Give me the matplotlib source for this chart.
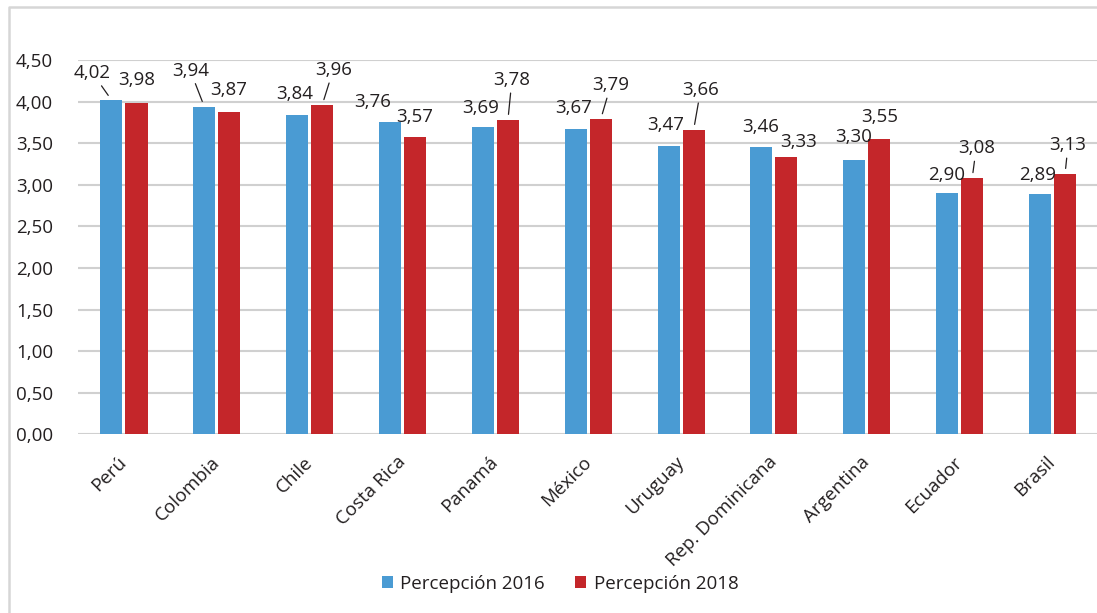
import matplotlib.pyplot as plt
import numpy as np
from matplotlib.lines import Line2D
from matplotlib.transforms import ScaledTranslation

paises = ['Perú', 'Colombia', 'Chile', 'Costa Rica', 'Panamá', 'México',
          'Uruguay', 'Rep. Dominicana', 'Argentina', 'Ecuador', 'Brasil']
p2016 = [4.02, 3.94, 3.84, 3.76, 3.69, 3.67, 3.47, 3.46, 3.30, 2.90, 2.89]
p2018 = [3.98, 3.87, 3.96, 3.57, 3.78, 3.79, 3.66, 3.33, 3.55, 3.08, 3.13]
series = ['Percepción 2016', 'Percepción 2018']

# label offsets (pixels, up positive) and whether a leader line is drawn
off2016 = [(-19, 27), (-14, 36), (-2, 21), (-17, 20), (-2, 19), (-2, 21),
           (-3, 21), (-1, 20), (-1, 23), (-1, 18), (-2, 19)]
lead2016 = [True, True, False, False, False, False, False, False, False, False, False]
off2018 = [(0, 23), (-1, 22), (11, 35), (0, 20), (4, 40), (10, 34),
           (7, 40), (12, 15), (0, 22), (4, 30), (3, 29)]
lead2018 = [False, False, True, False, True, True, True, False, False, True, True]

plt.rcParams['font.family'] = ['Open Sans', 'DejaVu Sans']
txt = '#231f20'
azul = '#4a9bd3'
rojo = '#c4262a'

fig = plt.figure(figsize=(10.97, 6.13), dpi=100)
# marco gris: linea superior e izquierda
fig.lines.append(Line2D([9 / 1097, 9 / 1097, 1.0], [0.0, 1 - 7 / 613, 1 - 7 / 613],
                        transform=fig.transFigure, color='#d6d6d6', linewidth=1.8))
ax = fig.add_axes([78 / 1097, 1 - 434.3 / 613, (1097 - 78) / 1097, 374.3 / 613])

x = np.arange(len(paises))
w = 0.237
d = 0.135
b1 = ax.bar(x - d, p2016, w, color=azul, label=series[0], zorder=3)
b2 = ax.bar(x + d, p2018, w, color=rojo, label=series[1], zorder=3)

def etiquetas(xs, vals, offs, leads):
    for xi, v, o, l in zip(xs, vals, offs, leads):
        s = ('%.2f' % v).replace('.', ',')
        if l:
            ax.annotate(s, (xi, v), xytext=o, textcoords='offset pixels',
                        ha='center', va='center', fontsize=13.5, color=txt,
                        arrowprops=dict(arrowstyle='-', color=txt, lw=0.9,
                                        shrinkA=1, shrinkB=4))
        else:
            ax.annotate(s, (xi, v), xytext=o, textcoords='offset pixels',
                        ha='center', va='center', fontsize=13.5, color=txt)

etiquetas(x - d, p2016, off2016, lead2016)
etiquetas(x + d, p2018, off2018, lead2018)

ax.set_ylim(0, 4.5)
ax.set_xlim(-0.495, 10.479)
yt = np.arange(0, 4.51, 0.5)
ax.set_yticks(yt)
ax.set_yticklabels([('%.2f' % t).replace('.', ',') for t in yt], fontsize=13.5, color=txt)
ax.set_xticks(x)
ax.set_xticklabels(paises, rotation=45, ha='right', va='center', rotation_mode='anchor',
                   fontsize=13.5, color=txt)
ax.tick_params(length=0, pad=8)
ax.tick_params(axis='y', pad=18)
sh = ScaledTranslation(0.0, -0.14, fig.dpi_scale_trans)
for lb in ax.get_xticklabels():
    lb.set_transform(lb.get_transform() + sh)
ax.grid(axis='y', color='#d0d0d0', linewidth=1.5, zorder=0)
for s in ax.spines.values():
    s.set_visible(False)

fig.legend(handles=[b1, b2], loc='center', bbox_to_anchor=(560 / 1097, 1 - 584 / 613),
           ncol=2, frameon=False, fontsize=13.5, handlelength=0.6, handleheight=0.6,
           handletextpad=0.4, columnspacing=1.6, labelcolor=txt)

fig.savefig('out.png', dpi=100)
